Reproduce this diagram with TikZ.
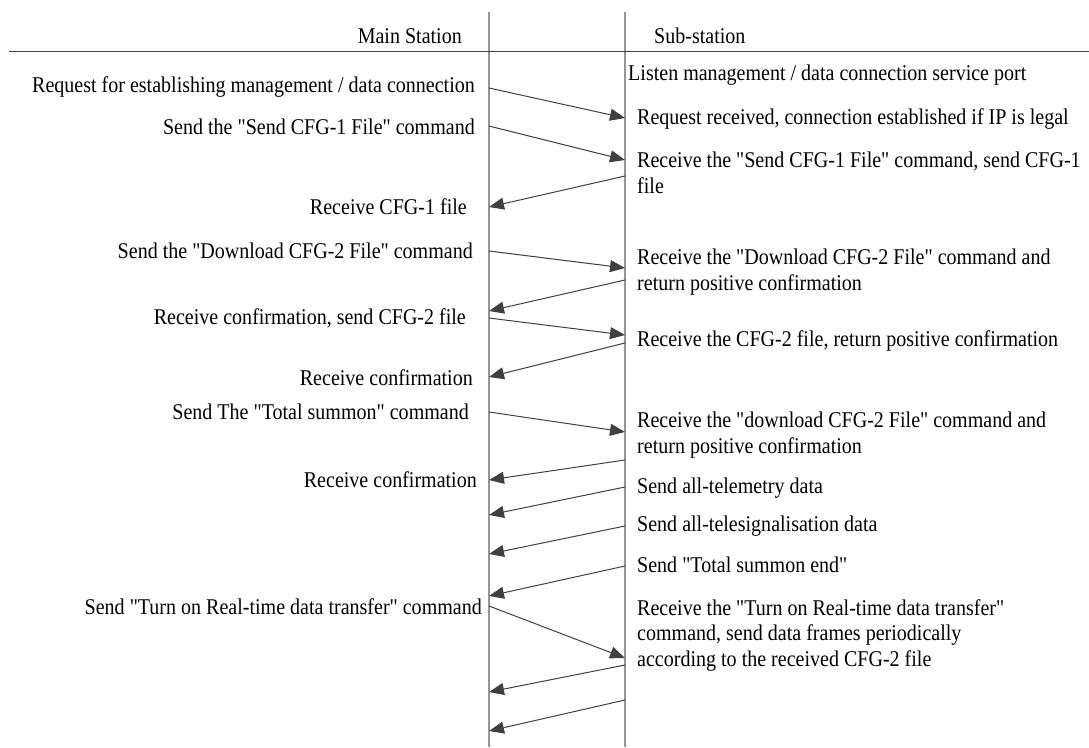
\documentclass[tikz,border=0pt]{standalone}
\usepackage{fontspec}
\newfontfamily\diagfont{Liberation Serif}[FakeStretch=0.89]
\usetikzlibrary{arrows.meta}
\definecolor{lifegray}{RGB}{150,150,150}
\definecolor{arrgray}{RGB}{64,64,64}
\begin{document}
\begin{tikzpicture}[x=1pt,y=-1pt,
  txt/.style={inner sep=0pt,font=\diagfont\fontsize{22.5}{25.5}\selectfont,text=black},
  lt/.style={txt,anchor=base east},
  rt/.style={txt,anchor=base west,align=left},
  life/.style={lifegray,line width=1.4pt},
  msg/.style={arrgray,line width=1pt,-{Triangle[length=15pt,width=12pt]}}]
\useasboundingbox (0,0) rectangle (1089,747);
% lifelines and header rule
\coordinate (LT) at (489,12); \coordinate (LB) at (489,747);
\coordinate (RT) at (625,12); \coordinate (RB) at (625,747);
\coordinate (HL) at (9,51); \coordinate (HR) at (1089,51);
\draw[life] (LT) -- (LB);
\draw[life] (RT) -- (RB);
\draw[arrgray,line width=1pt] (HL) -- (HR);
% headers
\node[lt] (hmain) at (462,43) {Main Station};
\node[rt] (hsub) at (654,43) {Sub-station};
% left texts
\node[lt] (t1) at (475,92) {Request for establishing management / data connection};
\node[lt] (t2) at (475,134) {Send the "Send CFG-1 File" command};
\node[lt] (t3) at (467,214) {Receive CFG-1 file};
\node[lt] (t4) at (473,258) {Send the "Download CFG-2 File" command};
\node[lt] (t5) at (466,324) {Receive confirmation, send CFG-2 file};
\node[lt] (t6) at (473,385) {Receive confirmation};
\node[lt] (t7) at (469,419) {Send The "Total summon" command};
\node[lt] (t8) at (477,487) {Receive confirmation};
\node[lt] (t9) at (482,614) {Send "Turn on Real-time data transfer" command};
% right texts (base anchor = baseline of last line)
\node[rt] (s0) at (628,80) {Listen management / data connection service port};
\node[rt] (s1) at (637,124) {Request received, connection established if IP is legal};
\node[rt] (s2) at (637,193) {Receive the "Send CFG-1 File" command, send CFG-1\\file};
\node[rt] (s3) at (637,290) {Receive the "Download CFG-2 File" command and\\return positive confirmation};
\node[rt] (s4) at (637,346) {Receive the CFG-2 file, return positive confirmation};
\node[rt] (s5) at (637,453) {Receive the "download CFG-2 File" command and\\return positive confirmation};
\node[rt] (s6) at (637,493) {Send all-telemetry data};
\node[rt] (s7) at (637,531) {Send all-telesignalisation data};
\node[rt] (s8) at (637,572) {Send "Total summon end"};
\node[rt] (s9) at (637,666) {Receive the "Turn on Real-time data transfer"\\command, send data frames periodically\\according to the received CFG-2 file};
% message endpoints
\coordinate (a1) at (489,88);  \coordinate (b1) at (625,118);
\coordinate (a2) at (489,126); \coordinate (b2) at (625,160);
\coordinate (b3) at (625,176); \coordinate (a3) at (489,207);
\coordinate (a4) at (489,251); \coordinate (b4) at (625,268);
\coordinate (b5) at (625,280); \coordinate (a5) at (489,311);
\coordinate (a6) at (489,318); \coordinate (b6) at (625,335);
\coordinate (b7) at (625,343); \coordinate (a7) at (489,377);
\coordinate (a8) at (489,412); \coordinate (b8) at (625,432);
\coordinate (b9) at (625,460); \coordinate (a9) at (489,480);
\coordinate (b10) at (625,487); \coordinate (a10) at (489,515);
\coordinate (b11) at (625,526); \coordinate (a11) at (489,554);
\coordinate (b12) at (625,566); \coordinate (a12) at (489,596);
\coordinate (a13) at (489,606); \coordinate (b13) at (625,658);
\coordinate (b14) at (625,665); \coordinate (a14) at (489,692);
\coordinate (b15) at (625,700); \coordinate (a15) at (489,731);
% messages
\draw[msg] (a1) -- (b1);
\draw[msg] (a2) -- (b2);
\draw[msg] (b3) -- (a3);
\draw[msg] (a4) -- (b4);
\draw[msg] (b5) -- (a5);
\draw[msg] (a6) -- (b6);
\draw[msg] (b7) -- (a7);
\draw[msg] (a8) -- (b8);
\draw[msg] (b9) -- (a9);
\draw[msg] (b10) -- (a10);
\draw[msg] (b11) -- (a11);
\draw[msg] (b12) -- (a12);
\draw[msg] (a13) -- (b13);
\draw[msg] (b14) -- (a14);
\draw[msg] (b15) -- (a15);
\end{tikzpicture}
\end{document}
